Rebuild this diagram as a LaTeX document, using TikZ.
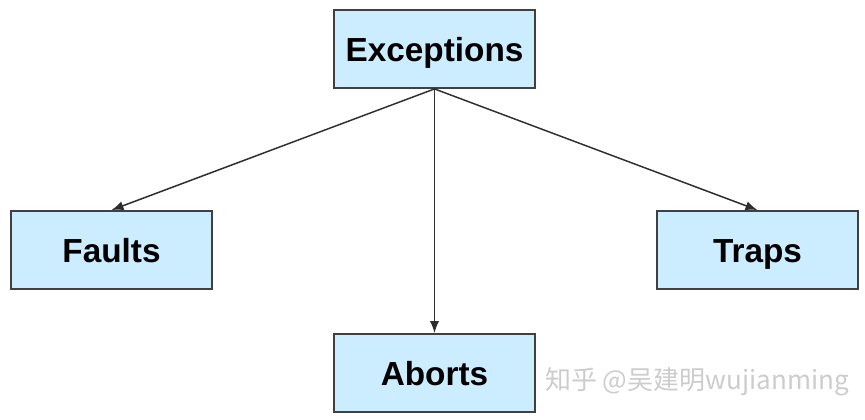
\documentclass[tikz,border=0pt]{standalone}
\usepackage{fontspec}
\setmainfont{Liberation Sans}
\newfontfamily\cjk{Noto Sans CJK SC}
\usetikzlibrary{arrows.meta}
\usetikzlibrary{positioning,shapes}
\definecolor{boxblue}{RGB}{204,236,255}
\definecolor{boxline}{RGB}{64,64,64}
\definecolor{arrowline}{RGB}{45,45,45}

\begin{document}
\begin{tikzpicture} [x=0.75pt,y=-0.75pt,-{Latex[length=9pt,width=7pt]},line width=1.1pt,draw=arrowline,
  font=\bfseries\fontsize{25}{29}\selectfont,
  box/.style={rectangle, draw=boxline, fill=boxblue, line width=1.4pt, inner sep=0pt,
    minimum width=150.75pt, minimum height=58.5pt, text height=19.5pt, text depth=0pt}]

  \useasboundingbox (0,0) rectangle (865,420);

  \node[box] (1) at (434.5,49) {Exceptions};
  \node[box] (2) at (111.5,250) {Faults};
  \node[box] (3) at (757.5,250) {Traps};
  \node[box] (4) at (434.5,373) {Aborts};

  \path
    (1.south) edge (2.north)
    (1.south) edge (4.north)
    (1.south) edge (3.north);

  \node (5) [anchor=west, text=gray!40, font=\cjk\fontsize{19.5}{22}\selectfont] at (540,382) {知乎 @吴建明wujianming};

\end{tikzpicture}
\end{document}
